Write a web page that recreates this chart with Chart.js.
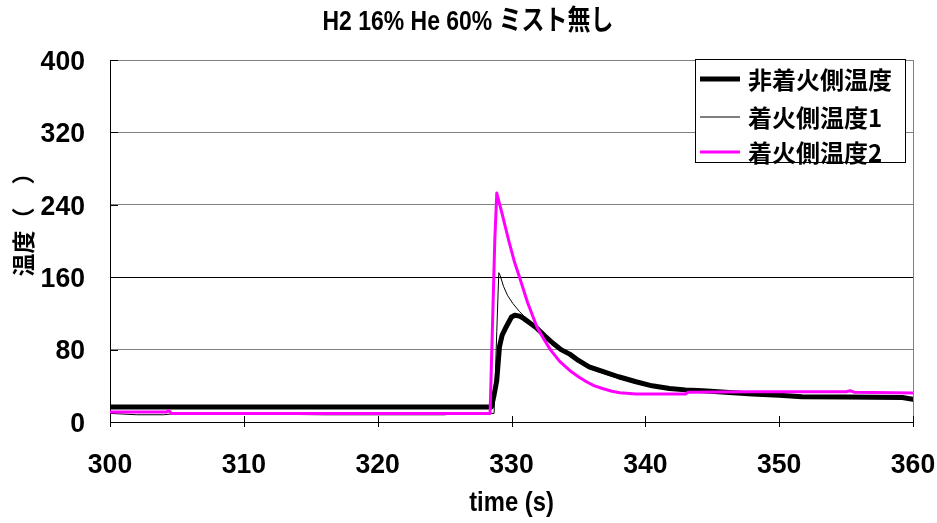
<!DOCTYPE html>
<html>
<head>
<meta charset="utf-8">
<script src="https://cdn.jsdelivr.net/npm/chart.js@4.4.1/dist/chart.umd.min.js"></script>
<style>
  html, body { margin: 0; padding: 0; background: #fff; }
</style>
</head>
<body>
<canvas id="chart" width="937" height="523"></canvas>
<script>
'use strict';

const FONT = '"Liberation Sans Narrow", "Liberation Sans", "Noto Sans CJK JP", sans-serif';
const CJK = '"Noto Sans CJK JP", "Liberation Sans", sans-serif';

const TITLE = 'H2 16% He 60% ミスト無し';
const X_TITLE = 'time (s)';
const Y_TITLE = '温度（　）';
const LABELS = ['非着火側温度', '着火側温度1', '着火側温度2'];
const X_TICKS = [300, 310, 320, 330, 340, 350, 360];
const Y_TICKS = [0, 80, 160, 240, 320, 400];

// 非着火側温度 (thick black)
const thickT = [300, 328.5, 328.7, 328.9, 329.1, 329.3, 329.6, 330.0, 330.25, 330.6, 330.9, 331.4, 331.9, 332.5,
  333.1, 333.7, 334.35, 335, 335.8, 336.8, 338, 339.3, 340.5, 341.8, 343, 344.3, 346, 348, 350, 351.7, 355, 359.2, 360];
const thickV = [16.5, 16.5, 30, 46, 83, 96, 105, 116, 118, 117, 114.5, 109, 103.5, 95,
  87, 80, 75, 68, 61, 56, 50, 44.5, 40, 37, 35.5, 34.6, 33, 31, 29.5, 28, 27.5, 27, 25];

// 着火側温度1 (thin black)
const thinT = [300, 302, 304, 305, 316, 325, 326, 328.7, 328.9, 329.05, 329.15, 329.4, 329.7, 330.1, 330.6, 331.2,
  331.9, 332.5, 333.1, 333.7, 334.35, 335, 335.8, 336.8, 338, 339.3, 340.5, 341.8, 343, 344.3, 346, 348, 350, 352, 356, 360];
const thinV = [9.5, 8, 8, 9.5, 8, 8, 9.5, 9.5, 100, 165, 162, 150, 140, 131, 122, 113,
  105, 96, 88, 80, 73, 66, 59, 54, 48, 43, 39, 36, 34.5, 33.5, 32, 30, 28.5, 27.5, 27, 26];

// 着火側温度2 (magenta)
const pinkT = [300, 304.2, 304.4, 304.6, 328.4, 328.75, 328.9, 329.3, 329.8, 330.2, 330.6, 331.2, 331.9, 332.4,
  332.9, 333.6, 334.35, 335, 335.6, 336.2, 336.8, 337.5, 338.1, 339.3, 343, 343.2, 348, 355, 355.3, 355.6, 360];
const pinkV = [11, 11, 12.5, 9.5, 9.5, 200, 253, 230, 200, 178, 160, 132, 105, 92,
  80, 67, 57, 50, 44.5, 40, 37, 34, 32.4, 31, 31, 33, 33.5, 33.5, 34.5, 33, 32];

const pts = (t, v) => t.map((x, i) => ({ x, y: v[i] }));

// narrow bold text, squeezed a little more where the reference is tighter
function narrowText(ctx, s, x, y, size, align, sx) {
  ctx.save();
  ctx.font = 'bold ' + size + 'px ' + FONT;
  ctx.fillStyle = '#000';
  ctx.textAlign = align;
  ctx.textBaseline = 'middle';
  ctx.translate(x, y);
  ctx.scale(sx, 1);
  ctx.fillText(s, 0, 0);
  ctx.restore();
}

const extras = {
  id: 'extras',
  beforeDatasetsDraw(chart) {
    const { ctx, chartArea: a, scales: { x, y } } = chart;
    ctx.save();
    // right border
    ctx.strokeStyle = '#808080';
    ctx.lineWidth = 1;
    ctx.beginPath();
    ctx.moveTo(a.right + 0.5, a.top);
    ctx.lineTo(a.right + 0.5, a.bottom + 1);
    ctx.stroke();
    // tick marks
    ctx.strokeStyle = '#000';
    ctx.beginPath();
    Y_TICKS.forEach(v => {
      const py = Math.round(y.getPixelForValue(v)) + 0.5;
      ctx.moveTo(a.left, py);
      ctx.lineTo(a.left + 8, py);
    });
    X_TICKS.forEach(v => {
      const px = Math.round(x.getPixelForValue(v)) + 0.5;
      ctx.moveTo(px, a.bottom - 6);
      ctx.lineTo(px, a.bottom + 5);
    });
    ctx.stroke();
    ctx.restore();
  },
  afterDraw(chart) {
    const { ctx, chartArea: a, scales: { x, y } } = chart;

    // titles and tick labels
    narrowText(ctx, TITLE, 468, 22, 28, 'center', 0.82);
    Y_TICKS.forEach(v => narrowText(ctx, String(v), a.left - 25, y.getPixelForValue(v) + 2, 28, 'right', 0.95));
    X_TICKS.forEach(v => narrowText(ctx, String(v), x.getPixelForValue(v), a.bottom + 43, 28, 'center', 0.95));
    narrowText(ctx, X_TITLE, (a.left + a.right) / 2, 503, 28, 'center', 0.85);

    // y axis title
    ctx.save();
    ctx.translate(23, 219);
    ctx.rotate(-Math.PI / 2);
    ctx.font = 'bold 23px ' + CJK;
    ctx.fillStyle = '#000';
    ctx.textAlign = 'center';
    ctx.textBaseline = 'middle';
    ctx.fillText(Y_TITLE, 0, 0);
    ctx.restore();

    // legend box
    ctx.save();
    ctx.fillStyle = '#fff';
    ctx.fillRect(695, 59, 210, 103);
    ctx.strokeStyle = '#000';
    ctx.lineWidth = 1;
    ctx.strokeRect(695.5, 59.5, 210, 103);
    const rows = [79, 117, 152];
    chart.data.datasets.forEach((ds, i) => {
      ctx.strokeStyle = ds.borderColor;
      ctx.lineWidth = ds.borderWidth;
      ctx.beginPath();
      ctx.moveTo(700, rows[i]);
      ctx.lineTo(740, rows[i]);
      ctx.stroke();
      ctx.fillStyle = '#000';
      ctx.font = 'bold 24px ' + CJK;
      ctx.textAlign = 'left';
      ctx.textBaseline = 'middle';
      ctx.fillText(ds.label, 748, rows[i] + 1);
    });
    ctx.restore();
  }
};

new Chart(document.getElementById('chart'), {
  type: 'line',
  data: {
    datasets: [{
      label: LABELS[0],
      data: pts(thickT, thickV),
      borderColor: '#000000',
      borderWidth: 5,
      order: 3,
    }, {
      label: LABELS[1],
      data: pts(thinT, thinV),
      borderColor: '#000000',
      borderWidth: 1,
      order: 2,
    }, {
      label: LABELS[2],
      data: pts(pinkT, pinkV),
      borderColor: '#ff00ff',
      borderWidth: 3,
      order: 1,
    }],
  },
  options: {
    responsive: false,
    animation: false,
    devicePixelRatio: 1,
    elements: {
      point: { radius: 0 },
      line: { tension: 0, borderJoinStyle: 'round', borderCapStyle: 'round', fill: false },
    },
    layout: { padding: { left: 0, right: 24, top: 60, bottom: 0 } },
    plugins: {
      legend: { display: false },
      tooltip: { enabled: false },
      title: { display: false },
    },
    scales: {
      x: {
        type: 'linear',
        min: 300, max: 360,
        afterFit: s => { s.height = 101; },
        afterBuildTicks: s => { s.ticks = X_TICKS.map(v => ({ value: v })); },
        ticks: { display: false },
        grid: { display: true, drawOnChartArea: false, drawTicks: false },
        border: { display: true, color: '#000', width: 1 },
      },
      y: {
        min: 0, max: 400,
        afterFit: s => { s.width = 110; },
        afterBuildTicks: s => { s.ticks = Y_TICKS.map(v => ({ value: v })); },
        ticks: { display: false },
        grid: {
          drawTicks: false,
          color: c => (c.tick && c.tick.value === 160 ? '#000' : '#808080'),
          lineWidth: 1,
        },
        border: { display: true, color: '#000', width: 1 },
      },
    },
  },
  plugins: [extras],
});
</script>
</body>
</html>
